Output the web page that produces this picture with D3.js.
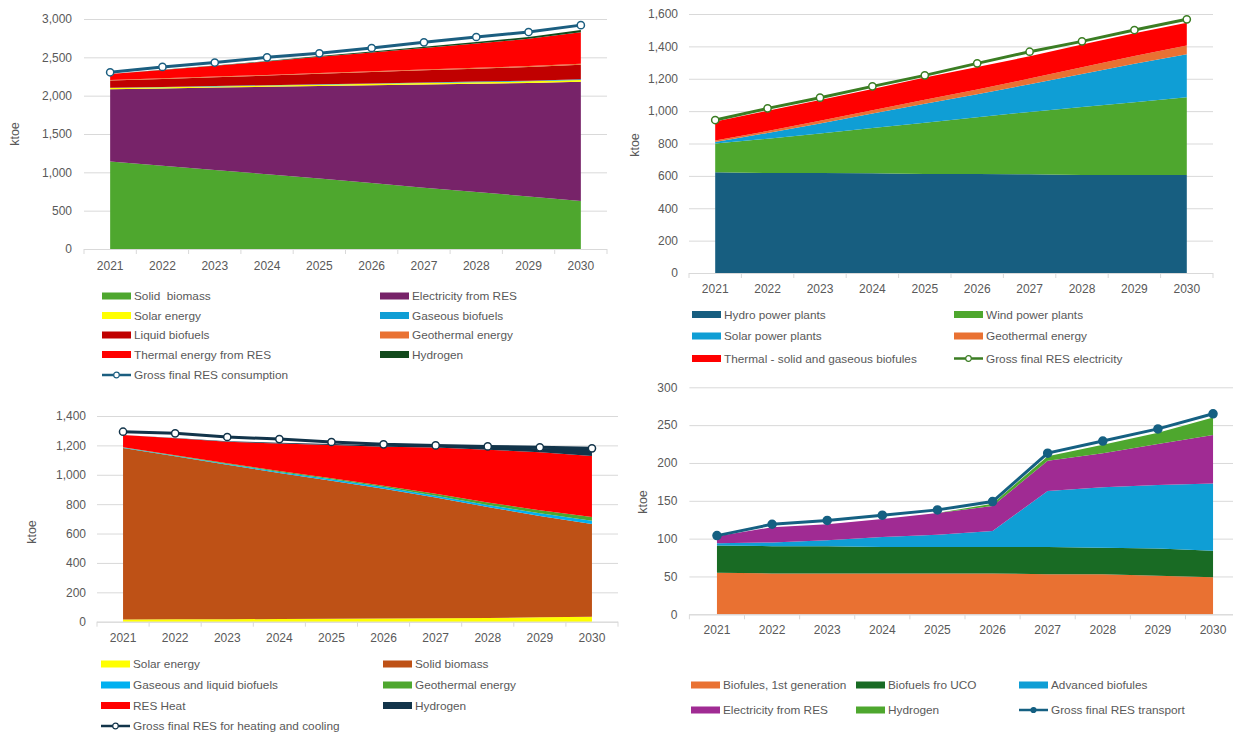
<!DOCTYPE html>
<html>
<head>
<meta charset="utf-8">
<script src="https://cdn.jsdelivr.net/npm/d3@7/dist/d3.min.js"></script>
<style>
  body { margin: 0; background: #fff; }
  svg text { font-family: "Liberation Sans", Arial, sans-serif; fill: #595959; }
  .legend text { white-space: pre; }
</style>
</head>
<body>
<svg id="chart" width="1233" height="733"></svg>
<script>
var years = ['2021', '2022', '2023', '2024', '2025', '2026', '2027', '2028', '2029', '2030'];

// --- gross final RES consumption (top left)
var p1SolidBiomass = [1140, 1085, 1030, 975, 920, 860, 800, 745, 685, 625];
var p1Electricity  = [945, 1010, 1075, 1140, 1205, 1275, 1345, 1410, 1480, 1555];
var p1Solar        = [14, 15, 16, 17, 18, 19, 20, 21, 22, 24];
var p1Gaseous      = [3, 3, 4, 5, 5, 6, 7, 8, 9, 10];
var p1Liquid       = [95, 105, 115, 125, 138, 148, 158, 168, 178, 190];
var p1Geothermal   = [8, 8, 9, 9, 10, 10, 11, 12, 12, 13];
var p1Thermal      = [78, 110, 140, 175, 210, 245, 280, 315, 355, 410];
var p1Hydrogen     = [0, 2, 4, 6, 10, 13, 17, 20, 25, 30];
var p1Total        = [2305, 2375, 2432, 2500, 2552, 2622, 2696, 2765, 2830, 2920];

// --- gross final RES electricity (top right)
var p2Hydro      = [622, 618, 617, 616, 612, 611, 610, 605, 605, 605];
var p2Wind       = [178, 212, 245, 279, 316, 351, 385, 420, 450, 480];
var p2Solar      = [10, 35, 62, 90, 118, 142, 171, 204, 238, 266];
var p2Geothermal = [8, 12, 16, 20, 25, 30, 35, 42, 48, 55];
var p2Thermal    = [118, 125, 128, 132, 136, 138, 138, 140, 140, 140];
var p2Total      = [945, 1017, 1083, 1153, 1221, 1295, 1367, 1431, 1501, 1567];

// --- gross final RES heating and cooling (bottom left)
var p3Solar      = [15, 16, 17, 18, 20, 22, 24, 26, 30, 33];
var p3Solid      = [1168, 1110, 1052, 994, 940, 883, 821, 754, 690, 632];
var p3Biofuels   = [3, 4, 5, 7, 9, 11, 13, 15, 18, 22];
var p3Geothermal = [2, 3, 4, 6, 8, 10, 13, 16, 20, 25];
var p3Heat       = [82, 115, 147, 187, 225, 265, 315, 360, 395, 415];
var p3Hydrogen   = [0, 2, 4, 6, 8, 10, 12, 18, 28, 48];
var p3Total      = [1293, 1282, 1257, 1243, 1223, 1207, 1200, 1193, 1187, 1180];

// --- gross final RES transport (bottom right)
var p4FirstGen    = [55, 54, 54, 54, 54, 54, 53, 53, 51, 49];
var p4Uco         = [36, 36, 36, 35, 35, 35, 36, 35, 36, 35];
var p4Advanced    = [3, 5, 8, 13, 16, 21, 74, 80, 84, 89];
var p4Electricity = [9, 20, 21, 24, 29, 33, 40, 45, 54, 64];
var p4Hydrogen    = [0, 0, 0, 0, 0, 3, 6, 11, 15, 23];
var p4Total       = [104, 119, 124, 131, 138, 149, 213, 229, 245, 265];

var GRID = '#d9d9d9';
var svg = d3.select('#chart');

function drawPanel(cfg) {
    var g = svg.append('g').attr('class', 'panel');

    var x = d3.scaleBand().domain(years).range([cfg.left, cfg.right]);
    var y = d3.scaleLinear().domain([0, cfg.max]).range([cfg.bottom, cfg.top]);
    var cx = function (yr) { return x(yr) + x.bandwidth() / 2; };

    // y axis with gridlines
    var yAxis = g.append('g')
        .attr('transform', 'translate(' + cfg.left + ',0)')
        .call(d3.axisLeft(y)
            .tickValues(d3.range(0, cfg.max + 1, cfg.step))
            .tickFormat(d3.format(','))
            .tickSize(-(cfg.gridRight - cfg.left))
            .tickPadding(cfg.yPad));
    yAxis.select('.domain').remove();
    yAxis.selectAll('line').attr('stroke', GRID);
    yAxis.selectAll('text').style('font-size', '12px').style('fill', '#595959');

    // stacked areas
    var rows = years.map(function (yr, i) {
        var r = { year: yr };
        cfg.series.forEach(function (s) { r[s.name] = s.values[i]; });
        return r;
    });
    var stack = d3.stack().keys(cfg.series.map(function (s) { return s.name; }));
    var layers = stack(rows);
    var area = d3.area()
        .x(function (d) { return cx(d.data.year); })
        .y0(function (d) { return y(d[0]); })
        .y1(function (d) { return y(d[1]); });

    g.selectAll('path.layer')
        .data(layers)
        .enter().append('path')
        .attr('class', 'layer')
        .attr('d', area)
        .attr('fill', function (d, i) { return cfg.series[i].color; });

    // x axis
    var xAxis = g.append('g')
        .attr('transform', 'translate(0,' + cfg.bottom + ')')
        .call(d3.axisBottom(x).tickSize(0).tickPadding(cfg.xPad));
    xAxis.select('.domain').attr('stroke', GRID).attr('d', 'M' + cfg.left + ',0.5H' + cfg.gridRight);
    xAxis.selectAll('text').style('font-size', '12px').style('fill', '#595959');
    xAxis.selectAll('line.edge')
        .data(d3.range(years.length + 1))
        .enter().append('line')
        .attr('class', 'edge')
        .attr('x1', function (i) { return cfg.left + i * x.step(); })
        .attr('x2', function (i) { return cfg.left + i * x.step(); })
        .attr('y1', 0).attr('y2', 5)
        .attr('stroke', GRID);

    // total line
    var line = d3.line()
        .x(function (d, i) { return cx(years[i]); })
        .y(function (d) { return y(d); });
    g.append('path')
        .attr('d', line(cfg.total.values))
        .attr('fill', 'none')
        .attr('stroke', cfg.total.color)
        .attr('stroke-width', 3);
    g.selectAll('circle.mark')
        .data(cfg.total.values)
        .enter().append('circle')
        .attr('class', 'mark')
        .attr('cx', function (d, i) { return cx(years[i]); })
        .attr('cy', function (d) { return y(d); })
        .attr('r', cfg.total.filled ? 4 : 3.6)
        .attr('fill', cfg.total.filled ? cfg.total.color : '#fff')
        .attr('stroke', cfg.total.color)
        .attr('stroke-width', 1.5);

    // y title
    g.append('text')
        .attr('transform', 'translate(' + cfg.titleX + ',' + cfg.titleY + ') rotate(-90)')
        .attr('text-anchor', 'middle')
        .attr('dy', '0.35em')
        .style('font-size', '12.5px')
        .text('ktoe');

    // legend
    var leg = g.append('g').attr('class', 'legend');
    var items = cfg.series.map(function (s) { return { name: s.name, color: s.color }; });
    items.push({ name: cfg.total.name, color: cfg.total.color, line: true, filled: cfg.total.filled });
    cfg.legendOrder.forEach(function (pos, i) {
        var it = items[i];
        var lx = cfg.legendCols[pos[0]], ly = cfg.legendRows[pos[1]];
        var item = leg.append('g').attr('transform', 'translate(' + lx + ',' + ly + ')');
        if (it.line) {
            item.append('line').attr('x1', 0).attr('x2', 29).attr('y1', 0).attr('y2', 0)
                .attr('stroke', it.color).attr('stroke-width', 2.5);
            item.append('circle').attr('cx', 14.5).attr('cy', 0).attr('r', it.filled ? 2.5 : 2.8)
                .attr('fill', it.filled ? it.color : '#fff')
                .attr('stroke', it.color).attr('stroke-width', 1.2);
        } else {
            item.append('rect').attr('x', 0).attr('y', -3.5).attr('width', 29).attr('height', 7)
                .attr('fill', it.color);
        }
        item.append('text').attr('x', 32).attr('dy', '0.35em')
            .style('font-size', '11.8px')
            .text(it.name);
    });
}

drawPanel({
    left: 84, right: 607, gridRight: 607, top: 19, bottom: 249, max: 3000, step: 500,
    yPad: 12, xPad: 12, titleX: 15, titleY: 134,
    series: [
        { name: 'Solid  biomass', values: p1SolidBiomass, color: '#4EA72E' },
        { name: 'Electricity from RES', values: p1Electricity, color: '#772369' },
        { name: 'Solar energy', values: p1Solar, color: '#FFFF00' },
        { name: 'Gaseous biofuels', values: p1Gaseous, color: '#0F9ED5' },
        { name: 'Liquid biofuels', values: p1Liquid, color: '#C00000' },
        { name: 'Geothermal energy', values: p1Geothermal, color: '#E97132' },
        { name: 'Thermal energy from RES', values: p1Thermal, color: '#FF0000' },
        { name: 'Hydrogen', values: p1Hydrogen, color: '#124A1C' }
    ],
    total: { name: 'Gross final RES consumption', values: p1Total, color: '#1B5E80' },
    legendCols: [102, 380],
    legendRows: [296, 315.5, 335, 354.5, 375],
    legendOrder: [[0, 0], [1, 0], [0, 1], [1, 1], [0, 2], [1, 2], [0, 3], [1, 3], [0, 4]]
});

drawPanel({
    left: 689, right: 1213, gridRight: 1213, top: 14, bottom: 273, max: 1600, step: 200,
    yPad: 11, xPad: 11, titleX: 635, titleY: 145,
    series: [
        { name: 'Hydro power plants', values: p2Hydro, color: '#175E80' },
        { name: 'Wind power plants', values: p2Wind, color: '#4EA72E' },
        { name: 'Solar power plants', values: p2Solar, color: '#0F9ED5' },
        { name: 'Geothermal energy', values: p2Geothermal, color: '#E97132' },
        { name: 'Thermal - solid and gaseous biofules', values: p2Thermal, color: '#FF0000' }
    ],
    total: { name: 'Gross final RES electricity', values: p2Total, color: '#3B7D23' },
    legendCols: [692, 954],
    legendRows: [314.5, 336, 358.5],
    legendOrder: [[0, 0], [1, 0], [0, 1], [1, 1], [0, 2], [1, 2]]
});

drawPanel({
    left: 97, right: 618, gridRight: 618, top: 416, bottom: 621.7, max: 1400, step: 200,
    yPad: 11, xPad: 12, titleX: 32, titleY: 532,
    series: [
        { name: 'Solar energy', values: p3Solar, color: '#FFFF00' },
        { name: 'Solid biomass', values: p3Solid, color: '#BE5116' },
        { name: 'Gaseous and liquid biofuels', values: p3Biofuels, color: '#00B0F0' },
        { name: 'Geothermal energy', values: p3Geothermal, color: '#4EA72E' },
        { name: 'RES Heat', values: p3Heat, color: '#FF0000' },
        { name: 'Hydrogen', values: p3Hydrogen, color: '#12344A' }
    ],
    total: { name: 'Gross final RES for heating and cooling', values: p3Total, color: '#12344A' },
    legendCols: [101, 383],
    legendRows: [664, 685, 705.5, 726],
    legendOrder: [[0, 0], [1, 0], [0, 1], [1, 1], [0, 2], [1, 2], [0, 3]]
});

drawPanel({
    left: 689.4, right: 1240.6, gridRight: 1240.6, top: 387.3, bottom: 614.3, max: 300, step: 50,
    yPad: 12, xPad: 11, titleX: 643, titleY: 502,
    series: [
        { name: 'Biofules, 1st generation', values: p4FirstGen, color: '#E97132' },
        { name: 'Biofuels fro UCO', values: p4Uco, color: '#196B24' },
        { name: 'Advanced biofules', values: p4Advanced, color: '#0F9ED5' },
        { name: 'Electricity from RES', values: p4Electricity, color: '#A02B93' },
        { name: 'Hydrogen', values: p4Hydrogen, color: '#4EA72E' }
    ],
    total: { name: 'Gross final RES transport', values: p4Total, color: '#156082', filled: true },
    legendCols: [691, 856, 1019],
    legendRows: [685, 710],
    legendOrder: [[0, 0], [1, 0], [2, 0], [0, 1], [1, 1], [2, 1]]
});
</script>
</body>
</html>
